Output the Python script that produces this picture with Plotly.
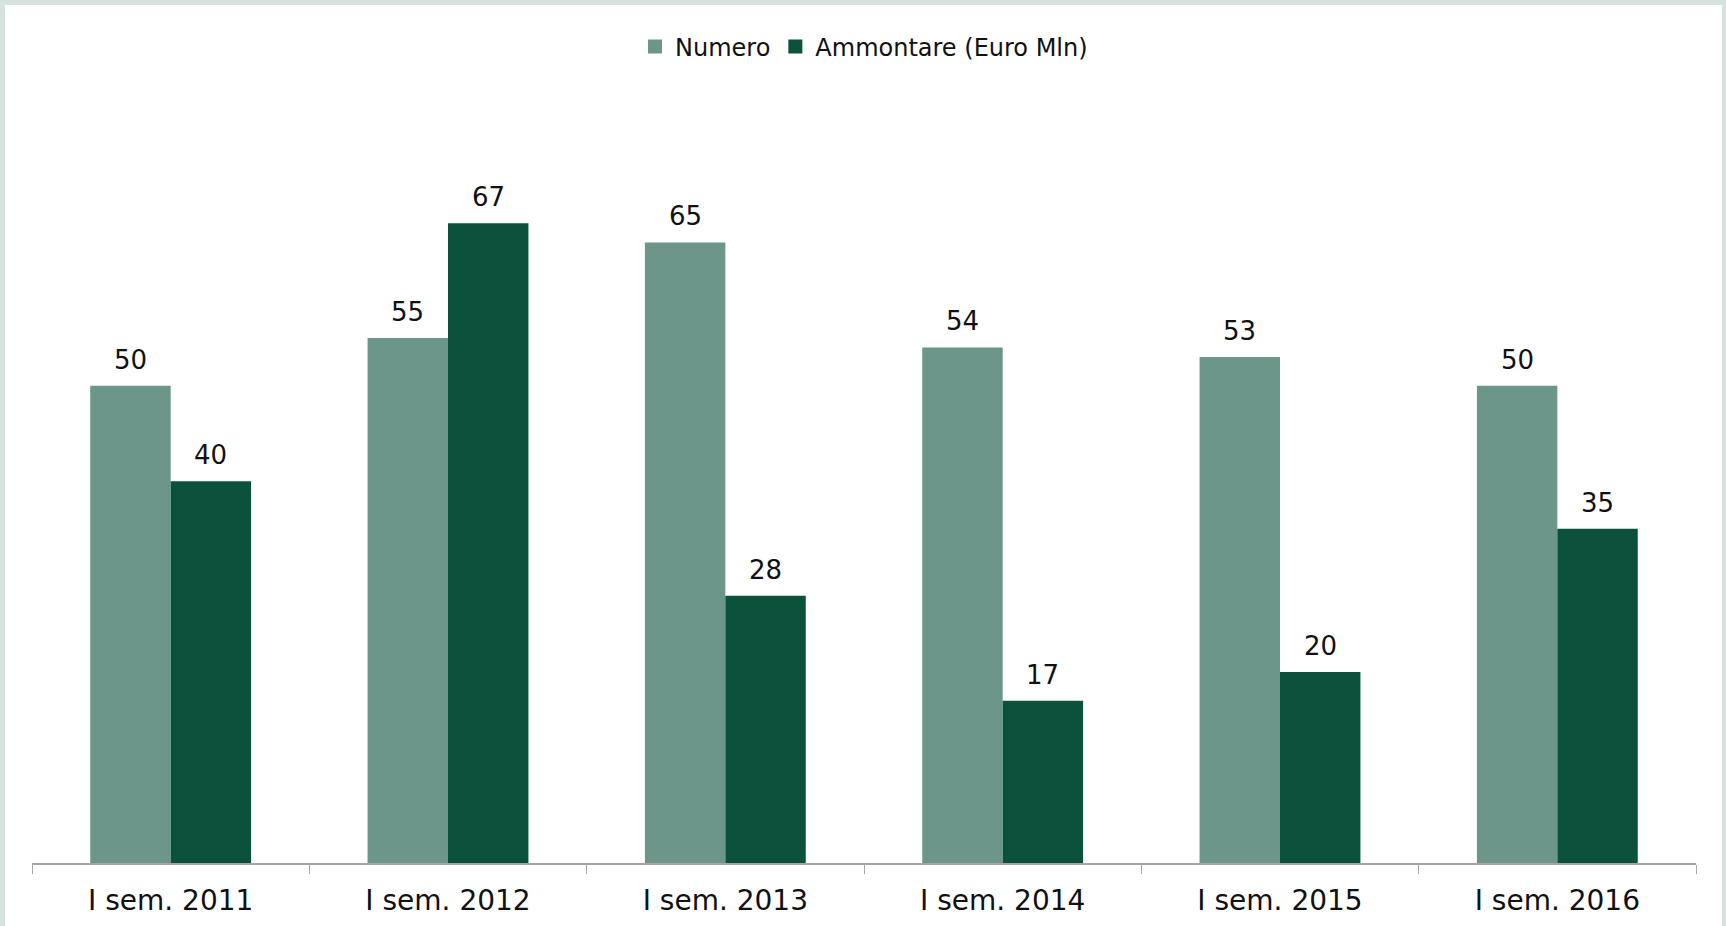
import plotly.graph_objects as go

categorie = ['I sem. 2011', 'I sem. 2012', 'I sem. 2013', 'I sem. 2014', 'I sem. 2015', 'I sem. 2016']
numero = [50, 55, 65, 54, 53, 50]
ammontare = [40, 67, 28, 17, 20, 35]

W, H = 1726, 926
ml, mr, mt, mb = 32, 30, 147, 63
pw, ph = W - ml - mr, H - mt - mb
gap = 0.42
half_bar = pw / len(categorie) * (1 - gap) / 4  # distanza del centro barra dal centro categoria

col_num = '#6b9689'
col_amm = '#0c513c'

fig = go.Figure()
fig.add_trace(go.Bar(x=categorie, y=numero, name='Numero', marker_color=col_num,
                     marker_line_width=0, showlegend=False))
fig.add_trace(go.Bar(x=categorie, y=ammontare, name='Ammontare (Euro Mln)', marker_color=col_amm,
                     marker_line_width=0, showlegend=False))

# voci di legenda con quadratini più grandi
for nome, col in [('Numero', col_num), ('Ammontare (Euro Mln)', col_amm)]:
    fig.add_trace(go.Scatter(x=[None], y=[None], mode='markers', name=nome,
                             marker=dict(symbol='square', size=14, color=col)))

# etichette dei valori
for serie, segno in [(numero, -1), (ammontare, 1)]:
    for cat, v in zip(categorie, serie):
        fig.add_annotation(x=cat, y=v, text=str(v), showarrow=False, yanchor='bottom',
                           xshift=segno * half_bar, yshift=9,
                           font=dict(size=26, color='#111111'))

# cornice chiara attorno al grafico
fig.add_shape(type='rect', xref='paper', yref='paper', layer='below',
              x0=(5 - ml) / pw, x1=(W - 4 - ml) / pw,
              y0=-mb / ph - 0.01, y1=(H - mb - 5) / ph,
              fillcolor='white', line_width=0)

fig.update_layout(
    width=W, height=H,
    margin=dict(l=ml, r=mr, t=mt, b=mb),
    paper_bgcolor='#d6e2dc', plot_bgcolor='white',
    barmode='group', bargap=gap, bargroupgap=0,
    font=dict(family='DejaVu Sans', color='#111111'),
    showlegend=True,
    legend=dict(orientation='h', x=0.5, xanchor='center', y=(H - mb - 47) / ph, yanchor='middle',
                font=dict(size=24), itemwidth=30, bgcolor='rgba(0,0,0,0)', traceorder='normal'),
    xaxis=dict(showline=True, linecolor='#a6a6a6', linewidth=1.5, ticks='outside',
               tickson='boundaries', ticklen=9, tickcolor='#a6a6a6', ticklabelstandoff=12,
               tickfont=dict(size=28), showgrid=False, automargin=False),
    yaxis=dict(range=[0, 75], visible=False, automargin=False),
)

fig.write_html("out.html", config={'displayModeBar': False},
               post_script="document.body.style.margin='0';")
